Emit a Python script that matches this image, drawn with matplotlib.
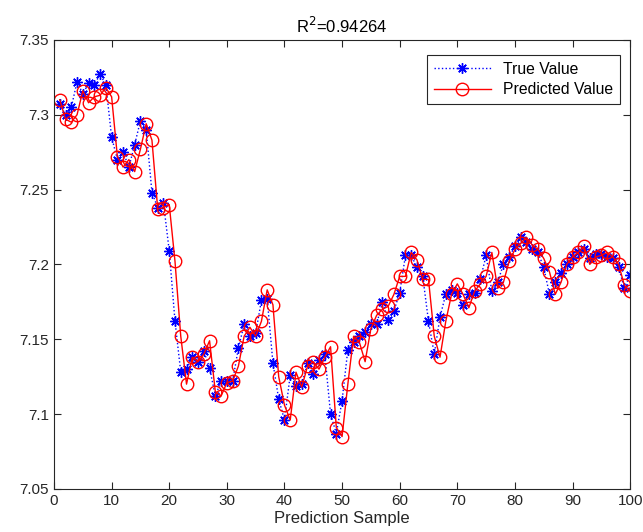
import matplotlib
matplotlib.use("Agg")
import matplotlib.pyplot as plt
import numpy as np

plt.rcParams['font.family'] = ['Liberation Sans', 'DejaVu Sans']

samples = np.arange(1, 101)

true_value = [
    7.307, 7.300, 7.305, 7.322, 7.314, 7.321, 7.320, 7.327, 7.320, 7.285,
    7.270, 7.275, 7.265, 7.280, 7.296, 7.290, 7.248, 7.238, 7.241, 7.209,
    7.162, 7.128, 7.130, 7.138, 7.135, 7.142, 7.131, 7.112, 7.122, 7.122,
    7.122, 7.144, 7.160, 7.152, 7.154, 7.176, 7.177, 7.134, 7.110, 7.096,
    7.126, 7.119, 7.120, 7.134, 7.127, 7.136, 7.140, 7.100, 7.087, 7.109,
    7.143, 7.148, 7.152, 7.155, 7.160, 7.160, 7.175, 7.163, 7.169, 7.181,
    7.206, 7.206, 7.198, 7.192, 7.162, 7.140, 7.165, 7.180, 7.183, 7.181,
    7.173, 7.180, 7.181, 7.190, 7.206, 7.182, 7.188, 7.200, 7.205, 7.212,
    7.218, 7.215, 7.210, 7.208, 7.198, 7.180, 7.188, 7.194, 7.200, 7.205,
    7.208, 7.210, 7.204, 7.207, 7.207, 7.205, 7.204, 7.198, 7.184, 7.193,
]

predicted_value = [
    7.310, 7.297, 7.295, 7.300, 7.316, 7.308, 7.312, 7.313, 7.318, 7.312,
    7.272, 7.265, 7.270, 7.262, 7.277, 7.294, 7.283, 7.237, 7.238, 7.240,
    7.202, 7.152, 7.120, 7.138, 7.135, 7.140, 7.149, 7.115, 7.112, 7.121,
    7.122, 7.132, 7.152, 7.158, 7.152, 7.162, 7.183, 7.173, 7.125, 7.106,
    7.096, 7.128, 7.118, 7.132, 7.135, 7.130, 7.138, 7.145, 7.091, 7.085,
    7.120, 7.152, 7.148, 7.135, 7.157, 7.166, 7.170, 7.172, 7.180, 7.192,
    7.192, 7.208, 7.203, 7.190, 7.190, 7.152, 7.138, 7.162, 7.180, 7.187,
    7.180, 7.171, 7.182, 7.187, 7.192, 7.208, 7.184, 7.188, 7.202, 7.210,
    7.214, 7.218, 7.213, 7.210, 7.204, 7.195, 7.180, 7.188, 7.200, 7.205,
    7.208, 7.212, 7.200, 7.205, 7.206, 7.208, 7.205, 7.200, 7.186, 7.182,
]

r2_text = "R$^2$=0.94264"

fig = plt.figure(figsize=(6.43, 5.32), dpi=100)
ax = fig.add_axes([0.084, 0.081, 0.896, 0.844])

# MATLAB-style asterisk: plus and cross overlaid
ax.plot(samples, true_value, color='blue', linestyle=':', linewidth=1,
        marker=(8, 2, 0), markersize=7.5, markeredgewidth=1,
        label='True Value')
ax.plot(samples, predicted_value, color='red', linestyle='-', linewidth=1,
        marker='o', markersize=9, markerfacecolor='none', label='Predicted Value')

ax.set_xlim(0, 100)
ax.set_ylim(7.05, 7.35)
ax.set_xticks(np.arange(0, 101, 10))
ax.set_yticks([7.05, 7.1, 7.15, 7.2, 7.25, 7.3, 7.35])
ax.set_yticklabels(['7.05', '7.1', '7.15', '7.2', '7.25', '7.3', '7.35'])
ax.tick_params(direction='in', top=True, right=True, labelsize=11,
               color='#262626', labelcolor='#262626', length=5)
for sp in ax.spines.values():
    sp.set_color('#262626')
    sp.set_linewidth(0.8)

ax.set_xlabel('Prediction Sample', fontsize=12, color='#262626', labelpad=2)
ax.set_title(r2_text, fontsize=12, color='black', pad=5)

leg = ax.legend(loc='upper right', bbox_to_anchor=(0.983, 0.967),
                borderaxespad=0, fontsize=11.3, fancybox=False,
                framealpha=1, edgecolor='#262626',
                handlelength=3.6, borderpad=0.45, labelspacing=0.35)
leg.get_frame().set_linewidth(0.8)

fig.savefig('out.png', dpi=100)
